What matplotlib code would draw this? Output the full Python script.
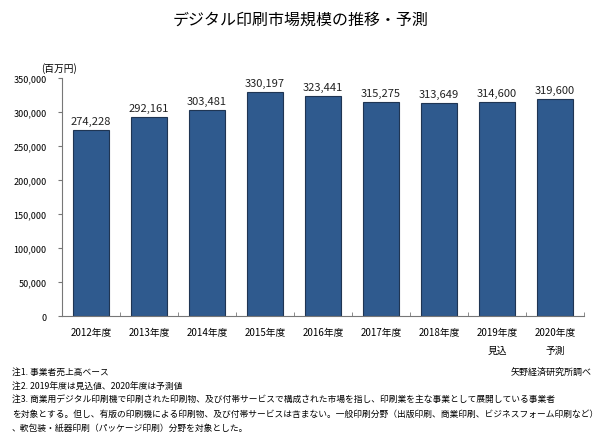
import matplotlib
matplotlib.use('Agg')
import matplotlib.pyplot as plt
import numpy as np

plt.rcParams['font.family'] = ['Noto Sans CJK JP', 'DejaVu Sans']

#%%

years = ['2012年度', '2013年度', '2014年度', '2015年度', '2016年度',
         '2017年度', '2018年度', '2019年度', '2020年度']
sub_labels = ['', '', '', '', '', '', '', '見込', '予測']
market = [274228, 292161, 303481, 330197, 323441, 315275, 313649, 314600, 319600]
yticks = [0, 50000, 100000, 150000, 200000, 250000, 300000, 350000]

notes = ['注1. 事業者売上高ベース',
         '注2. 2019年度は見込値、2020年度は予測値',
         '注3. 商業用デジタル印刷機で印刷された印刷物、及び付帯サービスで構成された市場を指し、印刷業を主な事業として展開している事業者',
         'を対象とする。但し、有版の印刷機による印刷物、及び付帯サービスは含まない。一般印刷分野（出版印刷、商業印刷、ビジネスフォーム印刷など）',
         '、軟包装・紙器印刷（パッケージ印刷）分野を対象とした。']

#%%

fig = plt.figure(figsize=(6.02, 4.35), dpi=100)
ax = fig.add_axes([0.103, 0.271, 0.867, 0.547])

x = np.arange(len(years))
ax.bar(x, market, width=0.62, color='#2F5A8E', edgecolor='#1F3553', linewidth=0.8)

for xi, v in zip(x, market):
    ax.text(xi, v + 6000, f'{v:,}', ha='center', va='bottom', fontsize=8, color='#222222')

ax.set_xlim(-0.5, len(years) - 0.5)
ax.set_ylim(0, 350000)
ax.set_yticks(yticks)
ax.set_yticklabels([f'{t:,}' for t in yticks], fontsize=6.5)
ax.set_xticks(x)
ax.set_xticklabels(years, fontsize=7)
ax.set_xticks(np.arange(-0.5, len(years)), minor=True)
ax.tick_params(axis='x', which='major', length=0, pad=8)
ax.tick_params(axis='x', which='minor', length=3, direction='in', color='#777777')
ax.tick_params(axis='y', length=3, color='#777777', pad=8)

for s in ['top', 'right']:
    ax.spines[s].set_visible(False)
ax.spines['left'].set_color('#777777')
ax.spines['bottom'].set_color('#777777')

for xi, s in zip(x, sub_labels):
    if s:
        ax.annotate(s, xy=(xi, 0), xycoords=('data', 'axes fraction'),
                    xytext=(0, -24.5), textcoords='offset points',
                    ha='center', va='center', fontsize=7)

fig.text(0.5, 0.953, 'デジタル印刷市場規模の推移・予測', ha='center', va='center', fontsize=11.5)
fig.text(0.098, 0.842, '(百万円)', ha='center', va='center', fontsize=7)

for i, line in enumerate(notes):
    fig.text(0.02, 1 - (372 + 14 * i) / 435, line, ha='left', va='center', fontsize=6.3)
fig.text(0.982, 1 - 372 / 435, '矢野経済研究所調べ', ha='right', va='center', fontsize=6.5)

plt.savefig('out.png', dpi=100)
